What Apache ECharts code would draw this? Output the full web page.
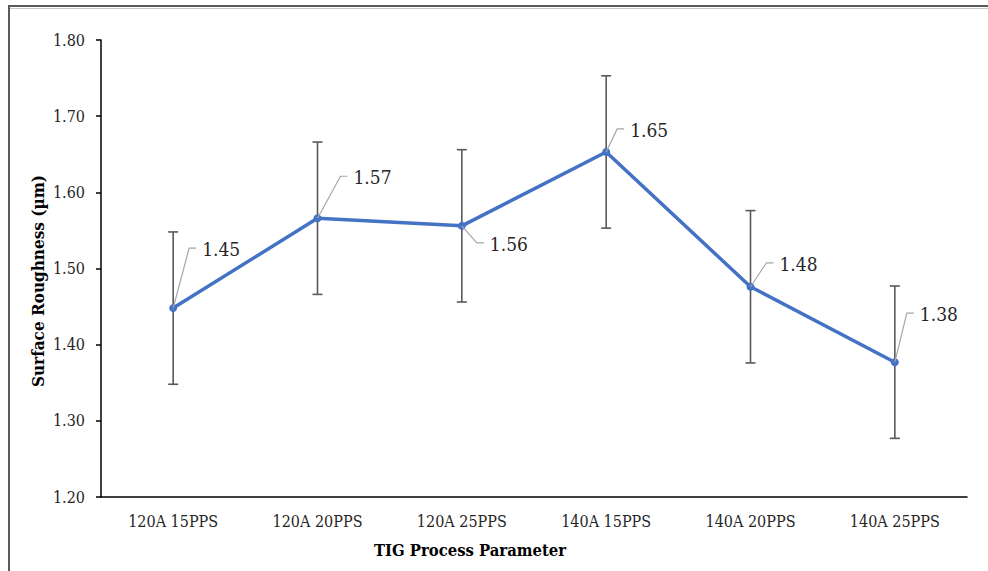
<!DOCTYPE html>
<html>
<head>
<meta charset="utf-8">
<title>Surface Roughness vs TIG Process Parameter</title>
<script src="https://cdn.jsdelivr.net/npm/echarts@6/dist/echarts.min.js"></script>
<style>
  html, body { margin: 0; padding: 0; background: #ffffff; }
  #chart { width: 988px; height: 571px; }
</style>
</head>
<body>
<div id="chart"></div>
<script>
// Process settings along the x axis
const categories = ['120A 15PPS', '120A 20PPS', '120A 25PPS', '140A 15PPS', '140A 20PPS', '140A 25PPS'];
// Mean surface roughness (µm)
const roughness = [1.448, 1.566, 1.556, 1.653, 1.476, 1.377];
// Error bar half-width (µm)
const errorSpan = [0.10, 0.10, 0.10, 0.10, 0.10, 0.10];
// Y axis ticks
const yTicks = [1.20, 1.30, 1.40, 1.50, 1.60, 1.70, 1.80];

// Data label placement: leader line elbow offset (px) from the point
const labelOffsets = [[16, -60], [23, -42], [15, 17], [11, -23], [16, -24], [12, -49]];

const serif = '"DejaVu Serif Condensed", "Liberation Serif", serif';
const chart = echarts.init(document.getElementById('chart'), null, { renderer: 'svg' });

const option = {
  animation: false,
  backgroundColor: '#ffffff',
  grid: { left: 101, right: 21, top: 40, bottom: 74 },
  xAxis: {
    type: 'category',
    data: categories,
    axisLine: { lineStyle: { color: '#000000', width: 1.5 } },
    axisTick: { alignWithLabel: true, length: 5, lineStyle: { color: '#000000', width: 1.5 } },
    axisLabel: { color: '#262626', fontFamily: serif, fontSize: 16, margin: 16 },
    splitLine: { show: false }
  },
  yAxis: {
    type: 'value',
    min: yTicks[0],
    max: yTicks[yTicks.length - 1],
    interval: 0.1,
    axisLine: { show: true, lineStyle: { color: '#000000', width: 1.5 } },
    axisTick: { show: true, length: 5, lineStyle: { color: '#000000', width: 1.5 } },
    axisLabel: { color: '#262626', fontFamily: serif, fontSize: 16, margin: 16,
      formatter: v => v.toFixed(2) },
    splitLine: { show: false }
  },
  graphic: [
    // outer frame (top and left edges)
    { type: 'rect', shape: { x: 9, y: 6, width: 990, height: 580 }, silent: true,
      style: { fill: 'none', stroke: '#5a5a5a', lineWidth: 2 } },
    { type: 'line', shape: { x1: 10, y1: 8.5, x2: 988, y2: 8.5 }, silent: true,
      style: { stroke: '#c8c8c8', lineWidth: 1 } },
    { type: 'text', x: 470, y: 550, silent: true,
      style: { text: 'TIG Process Parameter', fontFamily: serif, fontWeight: 'bold',
        fontSize: 16.5, fill: '#000000', align: 'center', verticalAlign: 'middle' } },
    { type: 'text', x: 38, y: 281, rotation: Math.PI / 2, silent: true,
      style: { text: 'Surface Roughness (µm)', fontFamily: serif, fontWeight: 'bold',
        fontSize: 17, fill: '#000000', align: 'center', verticalAlign: 'middle' } }
  ],
  series: [
    {
      name: 'error',
      type: 'custom',
      z: 2,
      data: roughness.map((v, i) => [i, v - errorSpan[i], v + errorSpan[i]]),
      renderItem: (params, api) => {
        const lo = api.coord([api.value(0), api.value(1)]);
        const hi = api.coord([api.value(0), api.value(2)]);
        const cap = 5;
        const style = { stroke: '#595959', lineWidth: 1.6 };
        return {
          type: 'group',
          children: [
            { type: 'line', shape: { x1: lo[0], y1: lo[1], x2: hi[0], y2: hi[1] }, style },
            { type: 'line', shape: { x1: hi[0] - cap, y1: hi[1], x2: hi[0] + cap, y2: hi[1] }, style },
            { type: 'line', shape: { x1: lo[0] - cap, y1: lo[1], x2: lo[0] + cap, y2: lo[1] }, style }
          ]
        };
      }
    },
    {
      name: 'Surface Roughness',
      type: 'line',
      z: 3,
      data: roughness,
      symbol: 'circle',
      symbolSize: 8,
      lineStyle: { color: '#4472C4', width: 3.5 },
      itemStyle: { color: '#4472C4' }
    },
    {
      name: 'labels',
      type: 'custom',
      z: 4,
      data: roughness.map((v, i) => [i, v]),
      renderItem: (params, api) => {
        const i = params.dataIndex;
        const p = api.coord([api.value(0), api.value(1)]);
        const off = labelOffsets[i];
        const ex = p[0] + off[0], ey = p[1] + off[1];
        return {
          type: 'group',
          children: [
            { type: 'polyline', shape: { points: [[p[0], p[1]], [ex, ey], [ex + 7, ey]] },
              style: { stroke: '#a6a6a6', lineWidth: 1.2, fill: 'none' } },
            { type: 'text', x: ex + 13, y: ey + 1,
              style: { text: api.value(1).toFixed(2), fontFamily: serif, fontSize: 19,
                fill: '#262626', textAlign: 'left', textVerticalAlign: 'middle' } }
          ]
        };
      }
    }
  ]
};

chart.setOption(option);
</script>
</body>
</html>
